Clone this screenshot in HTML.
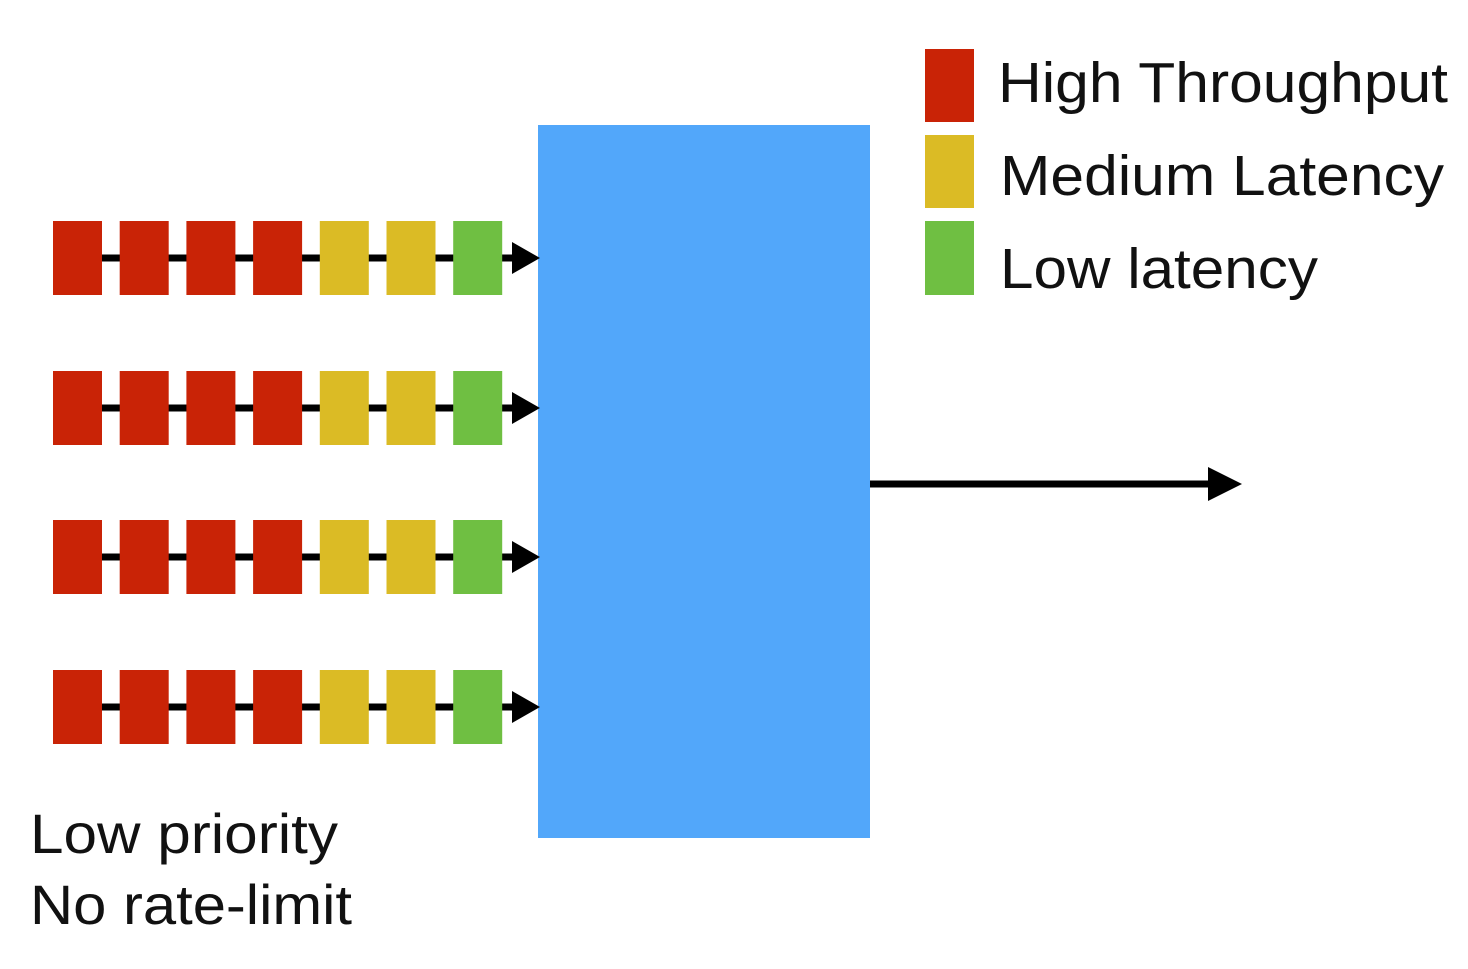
<!DOCTYPE html>
<html><head><meta charset="utf-8"><style>
html,body{margin:0;padding:0;background:#fff;width:1468px;height:969px;overflow:hidden}
svg text{font-family:"Liberation Sans",sans-serif;fill:#111}
</style></head><body>
<svg id="c" width="1468" height="969" viewBox="0 0 1468 969">
<rect x="538" y="125" width="332" height="713" fill="#52a7fa"/>
<g>
<line x1="870" y1="484" x2="1212" y2="484" stroke="#000" stroke-width="7"/>
<polygon points="1208,467 1242,484 1208,501" fill="#000"/>
</g>
<g id="queues"></g>
<g>
<rect x="925" y="49" width="49" height="73" fill="#c92306"/>
<text x="998" y="102" font-size="57" textLength="450" lengthAdjust="spacingAndGlyphs">High Throughput</text>
<rect x="925" y="135" width="49" height="73" fill="#dbbb25"/>
<text x="1000" y="195" font-size="57" textLength="444" lengthAdjust="spacingAndGlyphs">Medium Latency</text>
<rect x="925" y="221" width="49" height="74" fill="#6fbf42"/>
<text x="1000" y="288" font-size="57" textLength="318" lengthAdjust="spacingAndGlyphs">Low latency</text>
</g>
<text x="30" y="853" font-size="56" textLength="308" lengthAdjust="spacingAndGlyphs">Low priority</text>
<text x="30" y="924" font-size="56" textLength="322" lengthAdjust="spacingAndGlyphs">No rate-limit</text>
</svg>
<script>
const rowCenters=[258,408,557,707];
const itemTypes=["high","high","high","high","medium","medium","low"];
const colors={high:"#c92306",medium:"#dbbb25",low:"#6fbf42"};
const NS="http://www.w3.org/2000/svg";
const g=document.getElementById("queues");
rowCenters.forEach((cy,r)=>{
  const row=document.createElementNS(NS,"g");
  
  
  const ln=document.createElementNS(NS,"line");
  ln.setAttribute("x1",78);ln.setAttribute("x2",515);ln.setAttribute("y1",cy);ln.setAttribute("y2",cy);
  ln.setAttribute("stroke","#000");ln.setAttribute("stroke-width",7);
  row.appendChild(ln);
  const head=document.createElementNS(NS,"polygon");
  head.setAttribute("points",`512,${cy-16} 540,${cy} 512,${cy+16}`);
  
  
  row.appendChild(head);
  itemTypes.forEach((t,i)=>{
    const x=53+i*66.7;
    const rc=document.createElementNS(NS,"rect");
    rc.setAttribute("x",x);rc.setAttribute("y",cy-37);
    rc.setAttribute("width",49);rc.setAttribute("height",74);
    rc.setAttribute("fill",colors[t]);
    
    
    row.appendChild(rc);
  });
  g.appendChild(row);
});
</script>
</body></html>
